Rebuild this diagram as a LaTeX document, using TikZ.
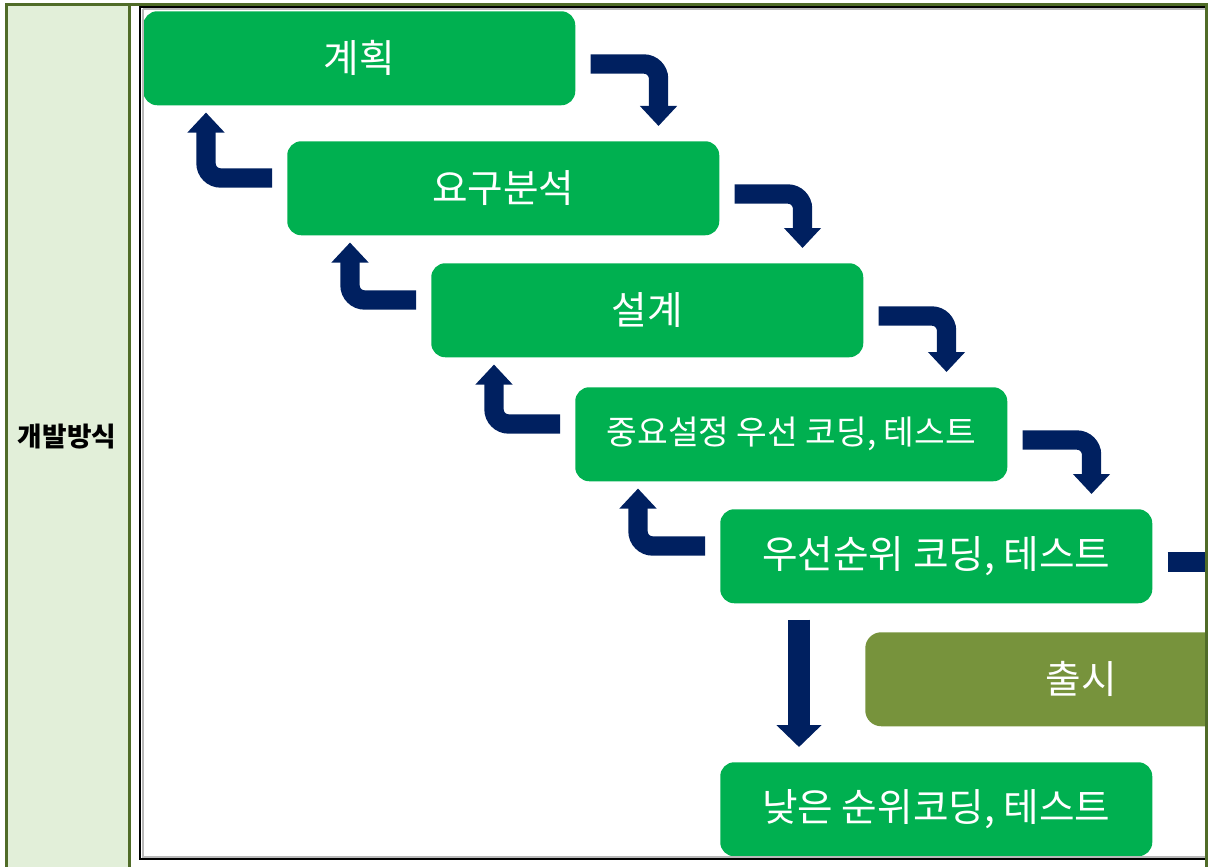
\documentclass[tikz,border=0pt]{standalone}
\usepackage{fontspec}
\setmainfont{Noto Sans CJK KR}
\usepackage{tikz}
\usetikzlibrary{arrows.meta,calc}
\definecolor{stagegreen}{RGB}{0,176,80}
\definecolor{releaseolive}{RGB}{119,147,60}
\definecolor{flownavy}{RGB}{0,32,96}
\definecolor{tableline}{RGB}{80,108,40}
\definecolor{cellgreen}{RGB}{226,239,217}
\tikzset{
  stage/.style={rectangle, rounded corners=10.5pt, fill=stagegreen, text=white,
    minimum width=324pt, minimum height=70.5pt, inner sep=0pt, anchor=north west,
    font=\fontsize{29}{34}\selectfont},
  flow/.style={draw=flownavy, line width=14.5pt, rounded corners=11pt,
    -{Triangle[width=27pt,length=15pt]}},
  drop/.style={draw=flownavy, line width=16.5pt, -{Triangle[width=33pt,length=16.5pt]}}
}

\begin{document}
\begin{tikzpicture}[x=0.75pt, y=-0.75pt]
            \useasboundingbox (0,0) rectangle (1208,867);
            \fill[cellgreen] (6.5,4.5) rectangle (129.5,867);
            \node[font=\fontsize{20}{24}\selectfont\bfseries] (method) at (67,437) {개발방식};
            \begin{scope}
                \clip (140,7.5) rectangle (1205,858.5);
                \node[stage] (b1) at (143,11) {계획};
                \node[stage] (b2) at (287,141) {요구분석};
                \node[stage] (b3) at (431,263) {설계};
                \node[stage, font=\fontsize{25}{30}\selectfont] (b4) at (575,387) {중요설정 우선 코딩, 테스트};
                \node[stage] (b5) at (720,509) {우선순위 코딩, 테스트};
                \node[stage, fill=releaseolive, rounded corners=12pt] (b6) at (865,632) {출시};
                \node[stage] (b7) at (720,762) {낮은 순위코딩, 테스트};
                \coordinate (out) at ($(b5.north east)+(60,53)$);
                \draw[flow] ($(b1.north east)+(15,53)$) -| ($(b2.north east)+(-61,-15)$);
                \draw[flow] ($(b2.north east)+(15,53)$) -| ($(b3.north east)+(-61,-15)$);
                \draw[flow] ($(b3.north east)+(15,53)$) -| ($(b4.north east)+(-61,-15)$);
                \draw[flow] ($(b4.north east)+(15,53)$) -| ($(b5.north east)+(-61,-15)$);
                \draw[flow, -] ($(b5.north east)+(15,53)$) -- (out);
                \draw[flow] ($(b2.north west)+(-15,37)$) -| ($(b1.south west)+(63,7)$);
                \draw[flow] ($(b3.north west)+(-15,37)$) -| ($(b2.south west)+(63,7)$);
                \draw[flow] ($(b4.north west)+(-15,37)$) -| ($(b3.south west)+(63,7)$);
                \draw[flow] ($(b5.north west)+(-15,37)$) -| ($(b4.south west)+(63,7)$);
                \draw[drop] ($(b5.south west)+(79,16)$) -- ($(b7.north west)+(79,-15)$);
            \end{scope}
            \draw[gray!55, line width=1.5pt] (142.5,9.5) -- (142.5,856.5) -- (1210,856.5);
            \draw[gray!55, line width=1.5pt] (142.5,9.5) -- (1210,9.5);
            \draw[black, line width=1.5pt] (1210,7.5) -- (140,7.5) -- (140,858.5) -- (1210,858.5);
            \draw[tableline, line width=2.25pt] (5,4.5) -- (1208,4.5);
            \draw[tableline, line width=2.25pt] (6.5,3.5) -- (6.5,867);
            \draw[tableline, line width=2.25pt] (129.5,3.5) -- (129.5,867);
            \draw[tableline, line width=2.25pt] (1206.5,3.5) -- (1206.5,867);
        \end{tikzpicture}
\end{document}
